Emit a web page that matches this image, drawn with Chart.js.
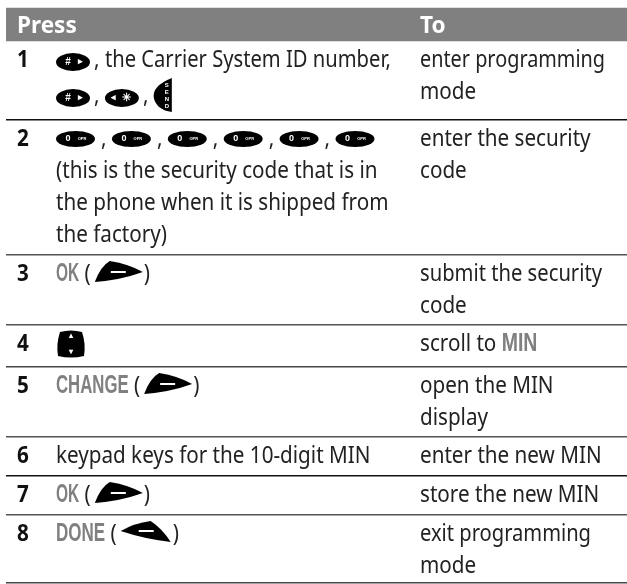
<!DOCTYPE html>
<html>
<head>
<meta charset="utf-8">
<style>
  html, body { margin: 0; padding: 0; background: #fff; overflow: hidden; }
  canvas { display: block; }
</style>
<script src="https://cdn.jsdelivr.net/npm/chart.js@4/dist/chart.umd.min.js"></script>
</head>
<body>
<canvas id="table" width="627" height="584"></canvas>
<script>
const headers = ['Press', 'To'];
const steps = ['1', '2', '3', '4', '5', '6', '7', '8'];

// '@' = key icon, '~' = display word, anything else is plain text
const pressLines = [
  [['@pound', ', ', 'the Carrier System ID number,'], ['@pound', ', ', '@star', ', ', '@send']],
  [['@zero', ', ', '@zero', ', ', '@zero', ', ', '@zero', ', ', '@zero', ', ', '@zero'],
   ['(this is the security code that is in'], ['the phone when it is shipped from'], ['the factory)']],
  [['~OK', ' (', '@softR', ')']],
  [['@scroll']],
  [['~CHANGE', ' (', '@softR', ')']],
  [['keypad keys for the 10-digit MIN']],
  [['~OK', ' (', '@softR', ')']],
  [['~DONE', ' (', '@softL', ')']],
];
const toLines = [
  [['enter programming'], ['mode']],
  [['enter the security'], ['code']],
  [['submit the security'], ['code']],
  [['scroll to ', '~MIN']],
  [['open the MIN'], ['display']],
  [['enter the new MIN']],
  [['store the new MIN']],
  [['exit programming'], ['mode']],
];

// row edges, top of the header band first
const headerBand = [8, 41];
const rowBottoms = [120, 255, 325, 367, 437, 476, 515, 583];
const ruleColors = ['#111', '#555', '#555', '#444', '#555', '#111', '#555', '#444'];

const TEXT = '#222';
const GREY = '#808080';
const X_STEP = 17, X_PRESS = 56, X_TO = 420;
const FIRST_BASE = 26, LINE = 32;
const BODY_FONT = '24px "Noto Sans"';
const STRETCH = 0.86;

// advance of each key, its drawn width plus a little air
const keyWidth = { pound: 38, star: 38, zero: 45, send: 20, scroll: 29, softR: 53, softL: 56 };
const displayStretch = { OK: 0.62, CHANGE: 0.67, DONE: 0.68, MIN: 0.78 };
// a few lines run narrower than the rest in the source, widths in px
const fitWidth = {
  'the Carrier System ID number,': 286,
  'enter programming': 185,
  'exit programming': 171,
  'submit the security': 182,
};

function tiny(ctx, s, x, y, size) {
  ctx.save();
  ctx.font = `bold ${size}px "Liberation Sans"`;
  ctx.fillStyle = '#fff';
  ctx.textAlign = 'center';
  ctx.textBaseline = 'middle';
  ctx.fillText(s, x, y);
  ctx.restore();
}

function drawKey(ctx, name, x, base) {
  ctx.save();
  ctx.fillStyle = '#000';
  ctx.beginPath();
  if (name === 'pound' || name === 'star') {
    const cy = base - 5;
    ctx.ellipse(x + 17, cy, 17, 9, 0, 0, Math.PI * 2);
    ctx.fill();
    if (name === 'pound') {
      tiny(ctx, '#', x + 12, cy, 10);
      tiny(ctx, '▸', x + 24, cy, 9);
    } else {
      tiny(ctx, '◂', x + 9, cy, 9);
      tiny(ctx, '✳', x + 22, cy, 11);
    }
  } else if (name === 'zero') {
    const cy = base - 7;
    ctx.ellipse(x + 19.5, cy, 19.5, 8, 0, 0, Math.PI * 2);
    ctx.fill();
    tiny(ctx, '0', x + 12, cy, 9);
    tiny(ctx, 'OPR', x + 26, cy, 4);
  } else if (name === 'send') {
    const top = base - 25;
    ctx.moveTo(x + 18, top);
    ctx.quadraticCurveTo(x - 2, top + 8, x, top + 20);
    ctx.quadraticCurveTo(x + 3, top + 32, x + 18, top + 34);
    ctx.closePath();
    ctx.fill();
    ['S', 'E', 'N', 'D'].forEach((c, i) => tiny(ctx, c, x + 13, top + 7 + i * 7, 6));
  } else if (name === 'scroll') {
    const top = base - 21;
    x += 1;
    ctx.moveTo(x + 3, top + 2);
    ctx.quadraticCurveTo(x + 14, top - 1, x + 25, top + 2);
    ctx.quadraticCurveTo(x + 29, top + 14, x + 27, top + 26);
    ctx.quadraticCurveTo(x + 14, top + 29, x + 1, top + 26);
    ctx.quadraticCurveTo(x - 1, top + 14, x + 3, top + 2);
    ctx.fill();
    tiny(ctx, '▴', x + 14, top + 6, 8);
    tiny(ctx, '▾', x + 14, top + 22, 8);
  } else if (name === 'softR') {
    const top = base - 20;
    x += 4;
    ctx.moveTo(x, top + 21);
    ctx.quadraticCurveTo(x + 6, top + 5, x + 15, top);
    ctx.quadraticCurveTo(x + 34, top + 3, x + 48, top + 11);
    ctx.quadraticCurveTo(x + 26, top + 19, x, top + 21);
    ctx.fill();
    ctx.fillStyle = '#fff';
    ctx.fillRect(x + 16, top + 10, 15, 2);
  } else if (name === 'softL') {
    const top = base - 20;
    x += 4;
    ctx.moveTo(x, top + 10);
    ctx.quadraticCurveTo(x + 14, top + 2, x + 30, top);
    ctx.quadraticCurveTo(x + 42, top + 8, x + 50, top + 21);
    ctx.quadraticCurveTo(x + 24, top + 18, x, top + 10);
    ctx.fill();
    ctx.fillStyle = '#fff';
    ctx.fillRect(x + 18, top + 9, 15, 2);
  }
  ctx.restore();
}

// text squeezed horizontally, the source face is a condensed one
function drawWord(ctx, s, x, base, font, color, stretch) {
  ctx.save();
  ctx.font = font;
  ctx.fillStyle = color;
  ctx.textBaseline = 'alphabetic';
  const natural = ctx.measureText(s).width;
  const sx = fitWidth[s] ? fitWidth[s] / natural : stretch;
  ctx.translate(x, base);
  ctx.scale(sx, 1);
  ctx.fillText(s, 0, 0);
  ctx.restore();
  return natural * sx;
}

function drawLine(ctx, tokens, x, base) {
  let cx = x;
  tokens.forEach(tok => {
    if (tok[0] === '@') {
      const name = tok.slice(1);
      drawKey(ctx, name, cx, base);
      cx += keyWidth[name];
    } else if (tok[0] === '~') {
      const word = tok.slice(1);
      cx += drawWord(ctx, word, cx, base, 'bold 25px "Liberation Sans Narrow", "Liberation Sans"', GREY, displayStretch[word]);
    } else {
      cx += drawWord(ctx, tok, cx, base, BODY_FONT, TEXT, STRETCH);
    }
  });
}

const tableText = {
  id: 'tableText',
  afterDatasetsDraw(chart) {
    const { ctx } = chart;
    const px = chart.scales.xPx, py = chart.scales.y;
    const headFont = 'bold 24px "Noto Sans"';
    drawWord(ctx, headers[0], px.getPixelForValue(X_STEP), py.getPixelForValue(33), headFont, '#fff', 0.94);
    drawWord(ctx, headers[1], px.getPixelForValue(X_TO), py.getPixelForValue(33), headFont, '#fff', 0.94);

    steps.forEach((step, i) => {
      const top = i === 0 ? headerBand[1] : rowBottoms[i - 1];
      const base = n => py.getPixelForValue(top + FIRST_BASE + n * LINE);
      drawWord(ctx, step, px.getPixelForValue(X_STEP), base(0), 'bold 24px "Noto Sans"', '#111', 0.86);
      // the tall send key pushes the second line of row 1 down a bit
      pressLines[i].forEach((l, n) => drawLine(ctx, l, px.getPixelForValue(X_PRESS), base(n) + (i === 0 && n === 1 ? 4 : 0)));
      toLines[i].forEach((l, n) => drawLine(ctx, l, px.getPixelForValue(X_TO), base(n)));
    });
  }
};

new Chart(document.getElementById('table').getContext('2d'), {
  type: 'bar',
  data: {
    labels: ['header'],
    datasets: [{
      data: [headerBand],
      backgroundColor: '#808080',
      barPercentage: 1,
      categoryPercentage: 1,
      borderWidth: 0,
    }]
  },
  options: {
    responsive: false,
    animation: false,
    layout: { padding: { left: 6 } },
    plugins: { legend: { display: false }, tooltip: { enabled: false } },
    scales: {
      x: { display: false },
      xPx: { type: 'linear', axis: 'x', display: false, offset: false, min: 6, max: 627 },
      y: {
        min: 0, max: 584, reverse: true,
        border: { display: false },
        ticks: { display: false },
        grid: {
          drawTicks: false,
          lineWidth: 1.4,
          color: c => ruleColors[c.index],
        },
        afterBuildTicks: axis => { axis.ticks = rowBottoms.map(value => ({ value })); },
      },
    },
  },
  plugins: [tableText],
});
</script>
</body>
</html>
